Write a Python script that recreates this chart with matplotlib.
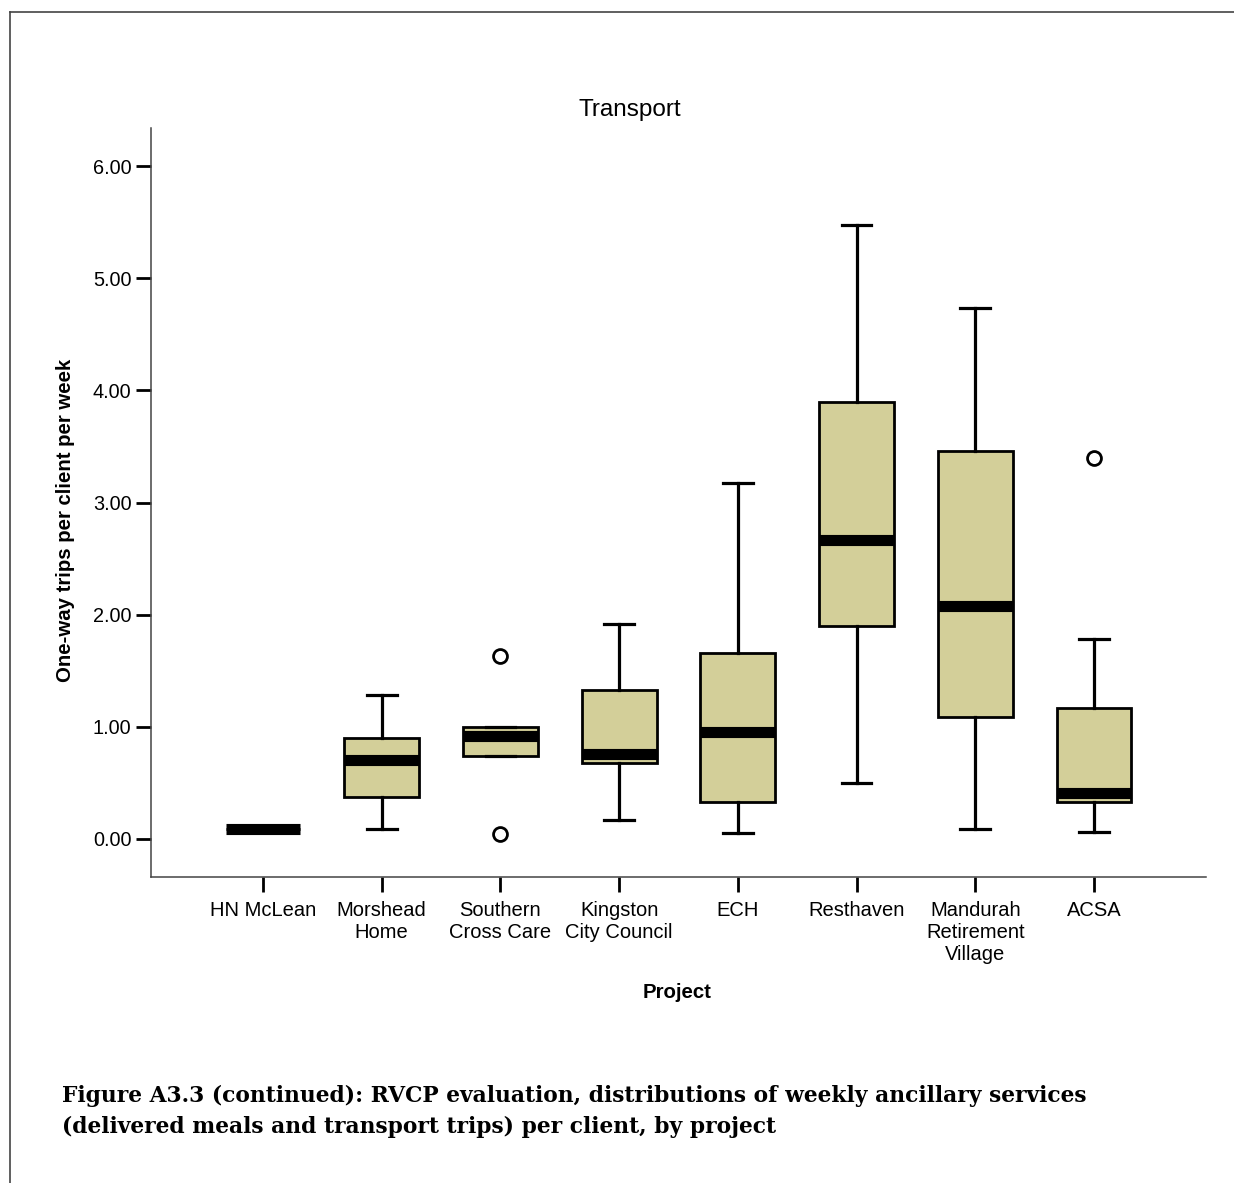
import matplotlib
matplotlib.use("Agg")
import matplotlib.pyplot as plt
from matplotlib.lines import Line2D

# ---- Data ----
projects = ["HN McLean", "Morshead\nHome", "Southern\nCross Care", "Kingston\nCity Council",
            "ECH", "Resthaven", "Mandurah\nRetirement\nVillage", "ACSA"]
q1 = [0.09, 0.37, 0.74, 0.68, 0.33, 1.90, 1.09, 0.33]
med = [0.09, 0.70, 0.92, 0.76, 0.95, 2.67, 2.08, 0.41]
q3 = [0.09, 0.90, 1.00, 1.33, 1.66, 3.90, 3.46, 1.17]
whislo = [0.09, 0.09, 0.74, 0.17, 0.05, 0.50, 0.09, 0.06]
whishi = [0.09, 1.28, 1.00, 1.92, 3.17, 5.47, 4.73, 1.78]
fliers = [[], [], [1.63, 0.045], [], [], [], [], [3.40]]
yticks = [0, 1, 2, 3, 4, 5, 6]

BOX_COLOR = "#d3cf99"
FONT = "Liberation Sans"

stats = []
for i in range(len(projects)):
    stats.append(dict(q1=q1[i], med=med[i], q3=q3[i], whislo=whislo[i],
                      whishi=whishi[i], fliers=fliers[i], label=projects[i]))

# ---- Figure ----
W, H = 1234, 1183
fig = plt.figure(figsize=(W / 100, H / 100), dpi=100)
ax = fig.add_axes([151 / W, 1 - 877 / H, (1206 - 151) / W, (877 - 128) / H])

positions = list(range(1, len(projects) + 1))
ax.bxp(stats, positions=positions, widths=0.63, patch_artist=True, showcaps=True,
       boxprops=dict(facecolor=BOX_COLOR, edgecolor="black", linewidth=2.0),
       medianprops=dict(color="black", linewidth=8, solid_capstyle="butt"),
       whiskerprops=dict(color="black", linewidth=2.3),
       capprops=dict(color="black", linewidth=2.3),
       capwidths=0.25,
       flierprops=dict(marker="o", markersize=10, markerfacecolor="none",
                       markeredgecolor="black", markeredgewidth=2.0))

ax.set_xlim(0.057, 8.943)
ax.set_ylim(-0.339, 6.339)
ax.set_yticks(yticks)
ax.set_yticklabels([f"{v:.2f}" for v in yticks], fontfamily=FONT, fontsize=14.3)
ax.set_xticks(positions)
ax.set_xticklabels(projects, fontfamily=FONT, fontsize=14.5, linespacing=1.22)

for side in ["top", "right"]:
    ax.spines[side].set_visible(False)
for side in ["left", "bottom"]:
    ax.spines[side].set_color("#444444")
    ax.spines[side].set_linewidth(1.1)
ax.tick_params(axis="both", length=11, width=2.0, color="black")
ax.tick_params(axis="y", pad=3)
ax.tick_params(axis="x", pad=6)

# ---- Texts ----
fig.text(630 / W, 1 - 110 / H, "Transport", ha="center", va="center",
         fontfamily=FONT, fontsize=17.5)
fig.text(66 / W, 1 - 520 / H, "One-way trips per client per week", rotation=90,
         ha="center", va="center", fontfamily=FONT, fontsize=14.7, fontweight="bold")
fig.text(677 / W, 1 - 993 / H, "Project", ha="center", va="center",
         fontfamily=FONT, fontsize=14.7, fontweight="bold")

caption = ("Figure A3.3 (continued): RVCP evaluation, distributions of weekly ancillary services\n"
           "(delivered meals and transport trips) per client, by project")
fig.text(62 / W, 1 - 1085 / H, caption, ha="left", va="top", fontfamily="DejaVu Serif",
         fontweight="bold", fontsize=15.7, linespacing=1.5)

# ---- Page frame (left and top edges) ----
fig.add_artist(Line2D([9.5 / W, 9.5 / W], [0, 1 - 11.5 / H], transform=fig.transFigure,
                      color="#444444", linewidth=1.2))
fig.add_artist(Line2D([9.5 / W, 1], [1 - 11.5 / H, 1 - 11.5 / H], transform=fig.transFigure,
                      color="#444444", linewidth=1.2))

fig.savefig("out.png", dpi=100)
